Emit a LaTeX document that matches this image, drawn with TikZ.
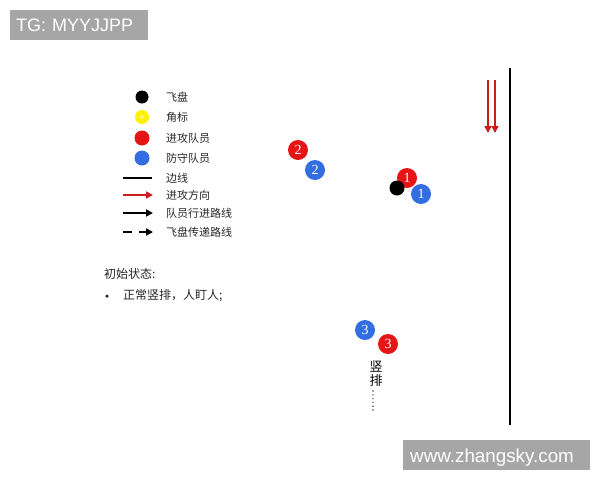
\documentclass[tikz,border=0pt]{standalone}
\usepackage{fontspec}
\setmainfont{Liberation Sans}
\newfontfamily\cjk{Noto Sans CJK SC}
\newfontfamily\numf{Liberation Serif}
\usetikzlibrary{arrows.meta}
\definecolor{redp}{RGB}{230,20,20}
\definecolor{bluep}{RGB}{50,110,225}
\definecolor{wmgray}{RGB}{166,166,166}
\definecolor{arrred}{RGB}{200,30,30}
\tikzset{
  leg/.style={anchor=west,font=\cjk\fontsize{11}{12}\selectfont,text=black!85,inner sep=0pt},
  player/.style={circle,fill=#1,minimum size=20pt,inner sep=0pt,text=white,font=\numf\fontsize{14}{14}\selectfont},
  disc/.style={circle,fill=black,minimum size=#1,inner sep=0pt},
  wm/.style={fill=wmgray,text=white,font=\fontsize{18}{19}\selectfont,anchor=north west,inner sep=0pt,minimum height=30pt,text depth=0pt},
  tip/.style={-{Triangle[length=7pt,width=7pt]}},
  dotp/.style={circle,fill=black!70,minimum size=1.6pt,inner sep=0pt},
}
\begin{document}
\begin{tikzpicture}[x=1pt,y=-1pt]
\useasboundingbox (0,0) rectangle (600,480);
% watermarks
\node[wm,minimum width=138pt,align=left,text width=134pt] (tg) at (10,10) {\hspace*{4pt}TG: MYYJJPP};
\node[wm,minimum width=187pt,align=left,text width=183pt,font=\fontsize{18.8}{19}\selectfont] (web) at (403,440) {\hspace*{5pt}www.zhangsky.com};
% legend symbols
\node[disc=13pt] (l1) at (142,97) {};
\node[circle,fill=yellow,minimum size=14pt,inner sep=0pt] (l2) at (142,117) {};
\node[circle,fill=white!50!yellow,minimum size=4pt,inner sep=0pt] (l2c) at (142,117) {};
\node[circle,fill=redp,minimum size=15pt,inner sep=0pt] (l3) at (142,138) {};
\node[circle,fill=bluep,minimum size=15pt,inner sep=0pt] (l4) at (142,158) {};
\coordinate (s5) at (123,178); \coordinate (e5) at (152,178);
\draw[line width=2pt] (s5) -- (e5);
\coordinate (s6) at (123,195); \coordinate (e6) at (153,195);
\draw[arrred,line width=1.6pt,tip] (s6) -- (e6);
\coordinate (s7) at (123,213); \coordinate (e7) at (153,213);
\draw[line width=2pt,tip] (s7) -- (e7);
\coordinate (s8) at (123,232); \coordinate (e8) at (153,232);
\draw[line width=2pt,dash pattern=on 9pt off 7pt,tip] (s8) -- (e8);
% legend texts
\node[leg] (t1) at (166,97) {飞盘};
\node[leg] (t2) at (166,117) {角标};
\node[leg] (t3) at (166,138) {进攻队员};
\node[leg] (t4) at (166,158) {防守队员};
\node[leg] (t5) at (166,178) {边线};
\node[leg] (t6) at (166,195) {进攻方向};
\node[leg] (t7) at (166,213) {队员行进路线};
\node[leg] (t8) at (166,232) {飞盘传递路线};
% state text
\node[leg,font=\cjk\fontsize{12}{13}\selectfont] (st) at (104,274) {初始状态:};
\node[circle,fill=black!85,minimum size=3.5pt,inner sep=0pt] (bul) at (107,296) {};
\node[leg,font=\cjk\fontsize{12}{13}\selectfont] (st2) at (123,296) {正常竖排，人盯人;};
% sideline and direction arrows
\coordinate (sl1) at (510,68); \coordinate (sl2) at (510,425);
\draw[line width=1.6pt] (sl1) -- (sl2);
\coordinate (a1s) at (488,80); \coordinate (a1e) at (488,133);
\coordinate (a2s) at (495,80); \coordinate (a2e) at (495,133);
\draw[arrred,line width=1.5pt,tip] (a1s) -- (a1e);
\draw[arrred,line width=1.5pt,tip] (a2s) -- (a2e);
% players
\node[player=redp] (r2) at (298,150) {2};
\node[player=bluep] (b2) at (315,170) {2};
\node[player=redp] (r1) at (407,178) {1};
\node[disc=15pt] (d) at (397,188) {};
\node[player=bluep] (b1) at (421,194) {1};
\node[player=bluep] (b3) at (365,330) {3};
\node[player=redp] (r3) at (388,344) {3};
% vertical stack label
\node[font=\cjk\fontsize{13}{14}\selectfont,inner sep=0pt] (v1) at (376,367) {竖};
\node[font=\cjk\fontsize{13}{14}\selectfont,inner sep=0pt] (v2) at (376,381) {排};
\foreach \i in {0,...,5} { \node[dotp] (dt\i) at (373,{391+3.8*\i}) {}; }
\end{tikzpicture}
\end{document}
